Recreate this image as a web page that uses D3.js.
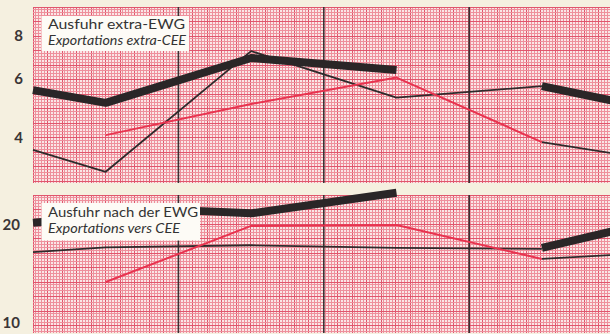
<!DOCTYPE html>
<html><head><meta charset="utf-8">
<script src="https://cdn.jsdelivr.net/npm/d3@7/dist/d3.min.js"></script>
<style>
html,body{margin:0;padding:0;background:#f5f0e0;}
svg{display:block;}
</style></head>
<body>
<script>
// half-year periods (index 0..8); dark vertical lines mark year boundaries
const periods = [0,1,2,3,4,5,6,7,8];
const yearBounds = [2,4,6];

// top panel: Ausfuhr extra-EWG (values, log scale)
const topTicks = [4,6,8];
const topThickA = [[0,5.54],[1,5.08],[3,6.89],[5,6.35]];
const topThickB = [[7,5.69],[8,5.14]];
const topThin   = [[0,3.69],[1,3.18],[3,7.22],[5,5.26],[7,5.69]];
const topRed    = [[1,4.08],[3,5.04],[5,6.03],[7,3.89]];
const topThinEnd= [[7,3.89],[8,3.60]];

// bottom panel: Ausfuhr nach der EWG
const botTicks = [10,20];
const botThickA = [[0,20.3],[1,21.2],[2,22.2],[3,21.7],[5,25.1]];
const botThickB = [[7,17.0],[8,19.2]];
const botThin   = [[0,16.5],[1,17.06],[3,17.33],[5,17.0],[7,16.9]];
const botRed    = [[1,13.37],[3,19.86],[5,20.0],[7,15.73]];
const botThinEnd= [[7,15.73],[8,16.2]];

const W=610,H=334;
const svg=d3.select("body").append("svg").attr("width",W).attr("height",H);
svg.append("rect").attr("width",W).attr("height",H).attr("fill","#f5f0e0");

const x=d3.scaleLinear().domain([0,8]).range([33,614.6]);

const panels=[
 {top:7,bottom:183,dom:[2.947,9.74],ticks:topTicks,tickX:23,
  series:[topThin,topRed,topThinEnd],thick:[topThickA,topThickB],red:topRed,
  legend:{x:41.5,y:16,w:147.5,h:35,l1:"Ausfuhr extra-EWG",l2:"Exportations extra-CEE",b1:29,b2:45,t1:137,t2:138}},
 {top:195,bottom:333,dom:[9.33,24.7],ticks:botTicks,tickX:20,
  series:[botThin,botRed,botThinEnd],thick:[botThickA,botThickB],red:botRed,
  legend:{x:41.5,y:203,w:158.5,h:37.5,l1:"Ausfuhr nach der EWG",l2:"Exportations vers CEE",b1:216.7,b2:233.3,t1:150,t2:132}}
];

panels.forEach(p=>{
  const y=d3.scaleLog().domain(p.dom).range([p.bottom,p.top]);
  const g=svg.append("g");
  const x0=33,x1=W;
  g.append("rect").attr("x",x0).attr("y",p.top).attr("width",x1-x0).attr("height",p.bottom-p.top).attr("fill","#fae6e6");
  const grid=g.append("g").attr("shape-rendering","crispEdges");
  const step=2.9;
  d3.range(0,Math.ceil((x1-x0)/step)+1).forEach(k=>{
    const xx=x0+k*step; if(xx>x1) return;
    grid.append("line").attr("x1",xx).attr("x2",xx).attr("y1",p.top).attr("y2",p.bottom)
      .attr("stroke",k%5===0?"#e0566d":"#ee909c").attr("stroke-width",1);
  });
  d3.range(0,Math.ceil((p.bottom-p.top)/step)+1).forEach(k=>{
    const yy=p.top+k*step; if(yy>p.bottom) return;
    grid.append("line").attr("x1",x0).attr("x2",x1).attr("y1",yy).attr("y2",yy)
      .attr("stroke",k%5===0?"#e0566d":"#ee909c").attr("stroke-width",1);
  });
  // year boundaries
  yearBounds.forEach(b=>{
    g.append("line").attr("x1",x(b)).attr("x2",x(b)).attr("y1",p.top).attr("y2",p.bottom)
      .attr("stroke","#3a3234").attr("stroke-width",1.6);
  });
  const line=d3.line().x(d=>x(d[0])).y(d=>y(d[1]));
  // thin dark lines
  [p.series[0],p.series[2]].forEach(s=>{
    g.append("path").attr("d",line(s)).attr("fill","none").attr("stroke","#2e2a2b")
      .attr("stroke-width",1.8).attr("stroke-linejoin","round");
  });
  g.append("path").attr("d",line(p.red)).attr("fill","none").attr("stroke","#e8334f")
    .attr("stroke-width",2).attr("stroke-linejoin","round");
  p.thick.forEach(s=>{
    g.append("path").attr("d",line(s)).attr("fill","none").attr("stroke","#2a2627")
      .attr("stroke-width",8).attr("stroke-linejoin","round").attr("stroke-linecap","butt");
  });
  // legend box
  const L=p.legend;
  g.append("rect").attr("x",L.x).attr("y",L.y).attr("width",L.w).attr("height",L.h).attr("fill","#fdfbf6");
  g.append("text").attr("x",48).attr("y",L.b1).text(L.l1)
    .attr("font-family","Lato, 'Open Sans', sans-serif").attr("font-size",14).attr("fill","#333")
    .attr("textLength",L.t1).attr("lengthAdjust","spacingAndGlyphs");
  g.append("text").attr("x",48).attr("y",L.b2).text(L.l2)
    .attr("font-family","Lato, 'Open Sans', sans-serif").attr("font-style","italic").attr("font-size",14).attr("fill","#333")
    .attr("textLength",L.t2).attr("lengthAdjust","spacingAndGlyphs");
  // axis labels
  const ax=d3.axisLeft(y).tickValues(p.ticks).tickSize(0).tickPadding(0).tickFormat(d3.format("d"));
  const ag=svg.append("g").attr("transform",`translate(${p.tickX},0)`).call(ax);
  ag.select(".domain").remove();
  ag.selectAll("text").attr("font-family","Lato, 'Open Sans', sans-serif").attr("font-size",15)
    .attr("font-weight","bold").attr("fill","#3a3536");
});
</script>
</body></html>
